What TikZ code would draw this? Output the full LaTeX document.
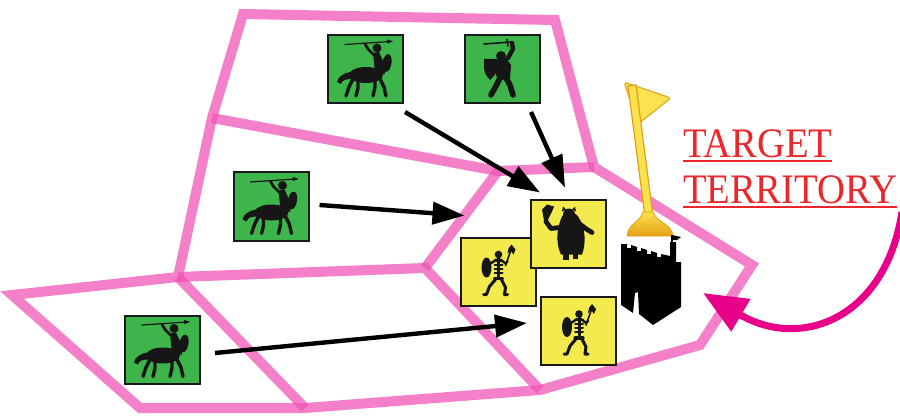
\documentclass[tikz,border=0pt]{standalone}
\usepackage{fontspec}
\usetikzlibrary{arrows.meta}
\newfontfamily\tgtfont[FakeStretch=0.92]{Liberation Serif}

\begin{document}
\begin{tikzpicture}[x=0.5pt,y=-0.5pt,
  border/.style={draw=edgeColor,draw opacity=0.75,line width=5pt,line join=miter},
  friendly/.style={rectangle,draw=boxColor,line width=1pt,fill=greenColor,
    minimum width=37.5pt,minimum height=34pt,inner sep=0pt,outer sep=0pt},
  foe/.style={friendly,fill=yellowColor},
  move/.style={draw=black,line width=2.2pt,-{Triangle[length=16pt,width=11pt]}},
  limb/.style={draw=iconColor,line cap=round,line join=round},
  centaur/.pic={
    \path[fill=iconColor] (38,40) ellipse [x radius=17, y radius=8];
    \path[fill=iconColor] (23,37) .. controls (15,38) and (10,42) .. (9,47) -- (13,49)
      .. controls (14,45) and (18,44) .. (24,44) -- cycle;
    \path[fill=iconColor] (45,18) -- (51,17) -- (56,28) -- (57,39) -- (47,39) -- (46,28) -- cycle;
    \path[fill=iconColor] (49,13) circle [radius=4.5];
    \path[fill=iconColor,rotate around={-10:(59,28)}] (59,28) ellipse [x radius=4.5, y radius=9];
    \path[limb,line width=1.4pt] (46,20) -- (40,14) -- (37,9);
    \path[limb,line width=0.6pt] (17,9.5) -- (61,6.6);
    \path[fill=iconColor] (65,6.3) -- (59,4.4) -- (59.5,8.6) -- cycle;
    \path[limb,line width=1.7pt] (25,44) -- (21,52) -- (18,61);
    \path[limb,line width=1.7pt] (30,46) -- (30,53) -- (28,61);
    \path[limb,line width=1.7pt] (47,44) -- (47,52) -- (45,61);
    \path[limb,line width=1.7pt] (52,44) -- (56,52) -- (58,61);
  },
  warrior/.pic={
    \path[limb,line width=0.8pt] (19,9) -- (47,7);
    \path[limb,line width=0.8pt] (42,4.5) -- (43,11);
    \path[limb,line width=2.2pt] (47,8) -- (48,14) -- (43,23);
    \path[fill=iconColor] (36,21) circle [radius=5];
    \path[fill=iconColor] (29,26) -- (41,23) -- (46,30) -- (45,44) -- (33,45) -- (29,34) -- cycle;
    \path[fill=iconColor] (19,24) -- (32,24) -- (32,33) .. controls (31,39) .. (25,45)
      .. controls (20,39) .. (19,33) -- cycle;
    \path[limb,line width=2.8pt] (35,43) -- (31,51) -- (26,60);
    \path[limb,line width=2.8pt] (41,43) -- (45,50) -- (48,60);
  },
  ogre/.pic={
    \path[fill=iconColor] (11,10) -- (16,5) -- (23,7) -- (21,12) -- (16,22) -- (13,21) -- cycle;
    \path[limb,line width=2.4pt] (15,22) -- (20,29) -- (29,28);
    \path[fill=iconColor] (31,17) .. controls (25,30) and (25,45) .. (30,55) -- (51,55)
      .. controls (55,45) and (55,28) .. (47,17) .. controls (42,11) and (36,11) .. cycle;
    \path[fill=iconColor] (38,15) circle [radius=6];
    \path[fill=iconColor] (31,12) -- (32,7) -- (35,10) -- cycle;
    \path[fill=iconColor] (45,12) -- (44,7) -- (41,10) -- cycle;
    \path[limb,line width=2.4pt] (48,24) -- (56,30) -- (61,33);
    \path[fill=iconColor] (32,52) rectangle (38,60);
    \path[fill=iconColor] (42,52) rectangle (47,59);
  },
  skeleton/.pic={
    \path[limb,line width=0.8pt] (45,28) -- (51,11);
    \path[fill=iconColor] (51,7) -- (55,12) -- (53,17) -- (50,13) -- (47,16) -- (48,11) -- cycle;
    \path[fill=iconColor] (38,17) circle [radius=3.8];
    \path[limb,line width=1.5pt] (38,20) -- (38,41);
    \foreach \ry in {23,27,31,35} {
      \path[limb,line width=1pt] (34,\ry) -- (42,\ry);
    }
    \path[limb,line width=1.2pt] (40,22) -- (45,26) -- (47,24);
    \path[limb,line width=1.2pt] (36,22) -- (30,26);
    \path[fill=iconColor] (26,30) ellipse [x radius=5, y radius=10];
    \path[limb,line width=1.6pt] (34,41) -- (42,41);
    \path[limb,line width=1.5pt] (35,42) -- (29,49) -- (26,57) -- (23,57);
    \path[limb,line width=1.5pt] (41,42) -- (45,50) -- (44,57) -- (47,57);
  }]
\definecolor{edgeColor}{RGB}{239,86,182}
\definecolor{boxColor}{RGB}{25,25,25}
\definecolor{greenColor}{RGB}{62,181,74}
\definecolor{yellowColor}{RGB}{243,235,78}
\definecolor{iconColor}{RGB}{22,22,22}
\definecolor{flagLight}{RGB}{252,226,80}
\definecolor{flagDark}{RGB}{228,160,20}
\definecolor{pushColor}{RGB}{232,0,138}
\definecolor{textRed}{RGB}{236,38,42}
\path[use as bounding box,fill=white] (0,0) rectangle (900,417);

% territories: outer rim, then the shared edges
\path[border] (243, 14) -- (555, 20) -- (594,167) -- (752,265) -- (700,345) -- (540,390)
  -- (305,408) -- (140,408) -- ( 12,295) -- (178,277) -- (212,118) -- cycle;
\path[border] (212,118) -- (498,171) -- (594,167);
\path[border] (498,171) -- (425,268);
\path[border] (178,277) -- (425,268) -- (540,390);
\path[border] (178,277) -- (305,408);

% units
\node[friendly] (cenTop) at (365.5, 69.0) {};
\node[friendly] (warTop) at (502.5, 69.0) {};
\node[friendly] (cenMid) at (271.0,206.5) {};
\node[friendly] (cenLow) at (162.5,349.5) {};
\node[foe] (skelLeft) at (498.0,271.5) {};
\node[foe] (ogre) at (568.5,233.5) {};
\node[foe] (skelLow) at (578.5,331.0) {};
\pic at (cenTop.north west) {centaur};
\pic at (warTop.north west) {warrior};
\pic at (cenMid.north west) {centaur};
\pic at (cenLow.north west) {centaur};
\pic at (skelLeft.north west) {skeleton};
\path[draw=boxColor,line width=1pt,fill=yellowColor] (ogre.north west) rectangle (ogre.south east);
\pic at (ogre.north west) {ogre};
\pic at (skelLow.north west) {skeleton};

% moves into the target
\draw[move] ([shift={(2,9)}]cenTop.south east) -- ([shift={(9,-7)}]ogre.north west);
\draw[move] ([shift={(-9,9)}]warTop.south east) -- ([shift={(-3.5,-12)}]ogre.north);
\draw[move] ([shift={(11,-1.5)}]cenMid.east) -- ([shift={(4,-22)}]skelLeft.north west);
\draw[move] ([shift={(15,3.5)}]cenLow.east) -- ([shift={(-14,-8)}]skelLow.west);

% flag
\path[fill=flagLight,draw=flagDark,line width=0.5pt,rounded corners=1.5pt]
  (624, 82) -- (671, 98) -- (638,124) -- cycle;
\path[fill=flagLight,draw=flagDark,line width=0.6pt] (628, 86) -- (636, 85) -- (653,216) -- (645,217) -- cycle;
\path[top color=flagLight,bottom color=flagDark,draw=flagDark,line width=0.4pt]
  (627,236) .. controls (628,224) and (640,222) .. (643,212) -- (653,212)
  .. controls (656,222) and (672,224) .. (673,236) -- cycle;

% castle
\path[fill=black] (621,244) -- (627,244) -- (627,248) -- (631,248) -- (631,245) -- (637,247)
  -- (637,251) -- (641,251) -- (641,248) -- (647,250) -- (647,254) -- (651,254) -- (651,251)
  -- (657,253) -- (657,257) -- (661,257) -- (661,254) -- (670,256) -- (670,242) -- (676,242)
  -- (676,262) -- (681,262) -- (681,307) -- (653,325) -- (639,314) -- (638,292) -- (635,293)
  -- (633,313) -- (621,305) -- cycle;
\path[draw=black,line width=0.7pt] (672,243) -- (672,235);
\path[fill=black] (672,235) -- (681,237) -- (677,240) -- (672,240) -- cycle;

% attack arrow
\draw[draw=pushColor,line width=3.5pt,-{Triangle[length=22pt,width=18pt]}]
  (902,212) .. controls (885,320) and (800,350) .. (703,293);

\node[text=textRed,anchor=base west,inner sep=0pt,outer sep=0pt,font=\tgtfont\fontsize{21}{24}\selectfont]
  (tgtTop) at (683,158) {TARGET};
\node[text=textRed,anchor=base west,inner sep=0pt,outer sep=0pt,font=\tgtfont\fontsize{21}{24}\selectfont]
  (tgtBot) at (683,204) {TERRITORY};
\path[draw=textRed,line width=0.9pt] ([yshift=-1.6pt]tgtTop.base west) -- ([yshift=-1.6pt]tgtTop.base east);
\path[draw=textRed,line width=0.9pt] ([yshift=-1.6pt]tgtBot.base west) -- ([yshift=-1.6pt]tgtBot.base east);
\end{tikzpicture}
\end{document}
